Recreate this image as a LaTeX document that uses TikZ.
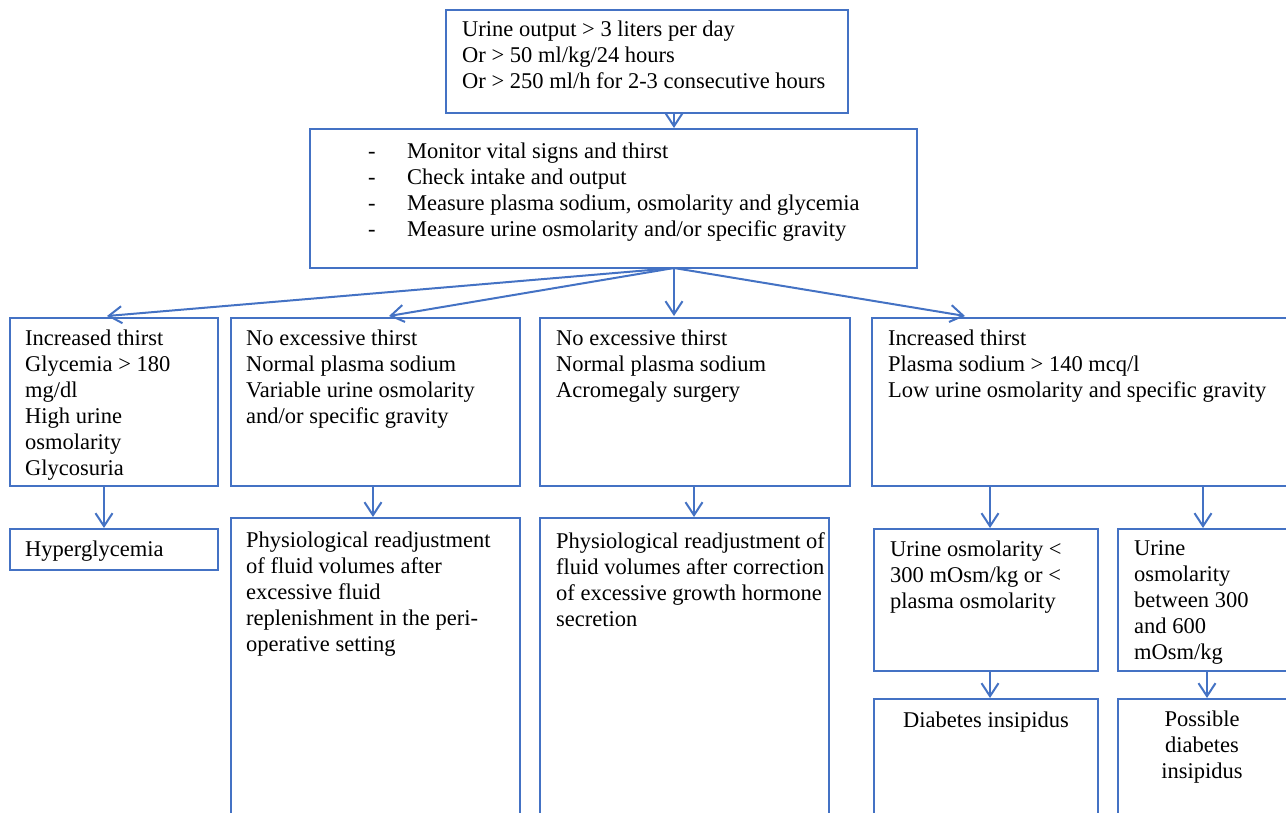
\documentclass[tikz,border=0pt]{standalone}
\usepackage{fontspec}
\setmainfont{Liberation Serif}
\usetikzlibrary{arrows.meta,calc}
\definecolor{bblue}{RGB}{68,114,196}
\tikzset{
  box/.style={draw=bblue, line width=2pt, rectangle, inner sep=0pt, outer sep=0pt, anchor=north west},
  arr/.style={draw=bblue, line width=2pt, -{Straight Barb[length=13pt,width=17pt,line width=2pt]}},
  txt/.style={inner sep=0pt, font=\fontsize{22.5}{26}\selectfont, text=black}
}
\newcommand\boxat[5]{\node[box, minimum width={#4-#2}, minimum height={#5-#3}] (#1) at (#2,#3) {};}
\newcommand\linesL[3]{\foreach \t [count=\i] in {#3} \node[txt, anchor=base west] at (#1,{#2+26*(\i-1)}) {\t};}
\newcommand\linesC[3]{\foreach \t [count=\i] in {#3} \node[txt, anchor=base] at (#1,{#2+26*(\i-1)}) {\t};}
\begin{document}
\begin{tikzpicture}[x=1pt,y=-1pt]
\useasboundingbox (0,0) rectangle (1286,812);
\clip (0,0) rectangle (1286,812);
\fill[white] (0,0) rectangle (1286,812);
% boxes
\boxat{top}{446}{10}{848}{113}
\boxat{mon}{310}{129}{917}{268}
\boxat{b1}{10}{318}{218}{486}
\boxat{b2}{231}{318}{520}{486}
\boxat{b3}{540}{318}{850}{486}
\boxat{b4}{872}{318}{1310}{486}
\boxat{hyp}{10}{529}{218}{570}
\boxat{ph1}{231}{518}{520}{830}
\boxat{ph2}{540}{518}{829}{830}
\boxat{uo}{874}{529}{1098}{671}
\boxat{bt}{1118}{529}{1310}{671}
\boxat{di}{874}{699}{1098}{830}
\boxat{pdi}{1118}{699}{1310}{830}
% texts
\linesL{462}{36}{Urine output > 3 liters per day, Or > 50 ml/kg/24 hours, Or > 250 ml/h for 2-3 consecutive hours}
\linesL{368}{158}{-,-,-,-}
\linesL{407}{158}{Monitor vital signs and thirst, Check intake and output, {Measure plasma sodium, osmolarity and glycemia}, Measure urine osmolarity and/or specific gravity}
\linesL{25}{345}{Increased thirst, Glycemia > 180, mg/dl, High urine, osmolarity, Glycosuria}
\linesL{246}{345}{No excessive thirst, Normal plasma sodium, Variable urine osmolarity, and/or specific gravity}
\linesL{556}{345}{No excessive thirst, Normal plasma sodium, Acromegaly surgery}
\linesL{888}{345}{Increased thirst, Plasma sodium > 140 mcq/l, Low urine osmolarity and specific gravity}
\linesL{25}{556}{Hyperglycemia}
\linesL{246}{547}{Physiological readjustment, of fluid volumes after, excessive fluid, replenishment in the peri-, operative setting}
\linesL{556}{548}{Physiological readjustment of, fluid volumes after correction, of excessive growth hormone, secretion}
\linesL{890}{556}{Urine osmolarity <, 300 mOsm/kg or <, plasma osmolarity}
\linesL{1134}{555}{Urine, osmolarity, between 300, and 600, mOsm/kg}
\linesC{986}{727}{Diabetes insipidus}
\linesC{1202}{726}{Possible, diabetes, insipidus}
% connectors
\coordinate (fan) at ($(mon.south west)+(364,0)$);
\draw[arr] ($(top.south west)+(228,0)$) -- ($(mon.north west)+(364,-1)$);
\draw[arr] (fan) -- ($(b1.north west)+(97,-2)$);
\draw[arr] (fan) -- ($(b2.north west)+(158,-2)$);
\draw[arr] (fan) -- ($(b3.north west)+(134,-2)$);
\draw[arr] (fan) -- ($(b4.north west)+(93,-2)$);
\draw[arr] ($(b1.south west)+(94,0)$) -- ($(hyp.north west)+(94,-1)$);
\draw[arr] ($(b2.south west)+(142,0)$) -- ($(ph1.north west)+(142,-1)$);
\draw[arr] ($(b3.south west)+(154,0)$) -- ($(ph2.north west)+(154,-1)$);
\draw[arr] ($(b4.south west)+(118,0)$) -- ($(uo.north west)+(116,-1)$);
\draw[arr] ($(b4.south west)+(331,0)$) -- ($(bt.north west)+(85,-1)$);
\draw[arr] ($(uo.south west)+(116,0)$) -- ($(di.north west)+(116,-1)$);
\draw[arr] ($(bt.south west)+(89,0)$) -- ($(pdi.north west)+(89,-1)$);
\end{tikzpicture}
\end{document}
